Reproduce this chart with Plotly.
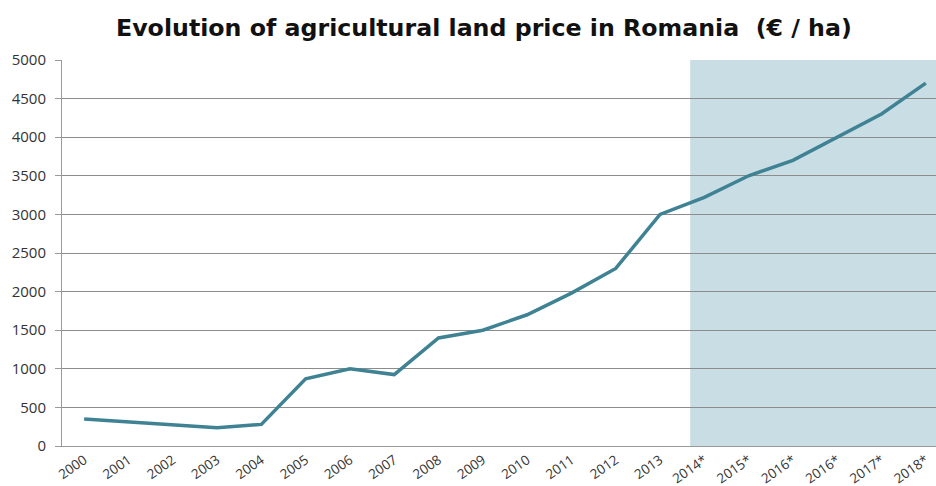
import plotly.graph_objects as go

years = ["2000", "2001", "2002", "2003", "2004", "2005", "2006", "2007", "2008", "2009",
         "2010", "2011", "2012", "2013", "2014*", "2015*", "2016*", "2016*", "2017*", "2018*"]
price = [350, 310, 280, 235, 280, 870, 1000, 925, 1400, 1500,
         1700, 1980, 2300, 3000, 3220, 3500, 3700, 4000, 4300, 4700]
tick_vals = [0, 500, 1000, 1500, 2000, 2500, 3000, 3500, 4000, 4500, 5000]

fig = go.Figure()
fig.add_trace(go.Scatter(x=list(range(len(years))), y=price, mode="lines",
                         line=dict(color="#3e8294", width=3.5), hoverinfo="skip"))

fig.add_shape(type="rect", xref="x", yref="y", x0=13.68, x1=19.5, y0=0, y1=5000,
              fillcolor="#c9dde5", line=dict(width=0), layer="below")

fig.update_layout(
    width=936, height=486,
    margin=dict(l=62, r=0, t=60, b=40, autoexpand=False),
    paper_bgcolor="white", plot_bgcolor="white",
    showlegend=False,
    title=dict(text="<b>Evolution of agricultural land price in Romania  (€ / ha)</b>",
               x=0.517, xanchor="center", y=0.942, yanchor="middle",
               font=dict(family="DejaVu Sans", size=23.7, color="#111111")),
    xaxis=dict(tickmode="array", tickvals=list(range(len(years))), ticktext=years,
               range=[-0.5, 19.23], tickangle=-35, showgrid=False,
               showline=True, linecolor="#9a9a9a", linewidth=1, automargin=False,
               ticks="", tickfont=dict(family="Open Sans", size=13.5, color="#333333"),
               zeroline=False),
    yaxis=dict(range=[0, 5000], tickvals=tick_vals, showgrid=True, gridcolor="#8c8c8c",
               gridwidth=1, showline=True, linecolor="#9a9a9a", ticks="outside",
               ticklen=6, tickcolor="#9a9a9a", automargin=False, ticklabelstandoff=6,
               tickfont=dict(family="Open Sans", size=15, color="#333333"),
               zeroline=False, layer="above traces"),
)

fig.write_html("out.html", config={"displayModeBar": False, "staticPlot": True},
               post_script="document.body.style.margin='0';")
